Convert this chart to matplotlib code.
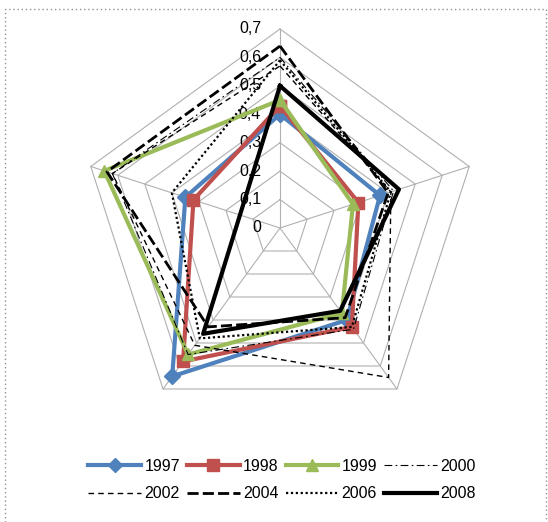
import numpy as np
import matplotlib.pyplot as plt
from matplotlib.patches import Rectangle

# values per axis, clockwise from the top spoke
series_names = ['1997', '1998', '1999', '2000', '2002', '2004', '2006', '2008']
v1997 = [0.40, 0.37, 0.40, 0.645, 0.35]
v1998 = [0.43, 0.29, 0.43, 0.58, 0.32]
v1999 = [0.45, 0.27, 0.37, 0.55, 0.65]
v2000 = [0.60, 0.42, 0.44, 0.55, 0.62]
v2002 = [0.57, 0.41, 0.65, 0.51, 0.62]
v2004 = [0.64, 0.40, 0.39, 0.43, 0.64]
v2006 = [0.59, 0.41, 0.43, 0.48, 0.40]
v2008 = [0.50, 0.44, 0.36, 0.46, np.nan]  # missing value, line skips it
ring_values = [0.1, 0.2, 0.3, 0.4, 0.5, 0.6, 0.7]
tick_labels = ['0', '0,1', '0,2', '0,3', '0,4', '0,5', '0,6', '0,7']

n_axes = 5
angles = np.pi / 2 - np.arange(n_axes) * 2 * np.pi / n_axes


def to_xy(vals):
    vals = np.asarray(vals, dtype=float)
    keep = ~np.isnan(vals)
    r = vals[keep]
    a = angles[keep]
    x = np.append(r * np.cos(a), r[0] * np.cos(a[0]))
    y = np.append(r * np.sin(a), r[0] * np.sin(a[0]))
    return x, y


W, H = 548, 522
cx, cy, rad_px = 280, 228, 199
s = 0.7 / rad_px

plt.rcParams['font.family'] = ['Liberation Sans', 'DejaVu Sans']
fig = plt.figure(figsize=(W / 100, H / 100), dpi=100)
ax = fig.add_axes([0, 0, 1, 1])
ax.set_xlim((0 - cx) * s, (W - cx) * s)
ax.set_ylim((cy - H) * s, cy * s)
ax.axis('off')

# dotted chart border
ax.add_patch(Rectangle(((5 - cx) * s, (cy - 540) * s), 541 * s, 531 * s,
                       fill=False, ec='#909090', lw=1, ls=(0, (1, 2))))

# grid rings and spokes
grid_col = '#B0B0B0'
for rv in ring_values:
    gx, gy = to_xy([rv] * n_axes)
    ax.plot(gx, gy, color=grid_col, lw=0.8, zorder=1)
for a in angles:
    ax.plot([0, 0.7 * np.cos(a)], [0, 0.7 * np.sin(a)], color=grid_col, lw=0.8, zorder=1)

for rv, lab in zip([0] + ring_values, tick_labels):
    ax.text(-19 * s, rv, lab, ha='right', va='center', fontsize=11.5, color='black')

styles = {
    '1997': dict(color='#4F81BD', lw=3, marker='D', ms=8),
    '1998': dict(color='#C0504D', lw=3, marker='s', ms=9),
    '1999': dict(color='#9BBB59', lw=3, marker='^', ms=9),
    '2000': dict(color='black', lw=0.8, ls=(0, (7, 3, 1.5, 3))),
    '2002': dict(color='black', lw=1.0, ls=(0, (4, 3))),
    '2004': dict(color='black', lw=2.0, ls=(0, (4, 1.5))),
    '2006': dict(color='black', lw=1.6, ls=(0, (1, 1.2))),
    '2008': dict(color='black', lw=3),
}
data = [v1997, v1998, v1999, v2000, v2002, v2004, v2006, v2008]

handles = {}
for name, vals in zip(series_names, data):
    x, y = to_xy(vals)
    st = styles[name]
    ln, = ax.plot(x, y, label=name, zorder=3, **st)
    handles[name] = ln

order = ['1997', '2002', '1998', '2004', '1999', '2006', '2000', '2008']
fig.legend([handles[k] for k in order], order, ncol=4, frameon=False,
           loc='center', bbox_to_anchor=(282 / W, 1 - 480 / H),
           fontsize=11.5, handlelength=3.3, handletextpad=0.2,
           columnspacing=0.45, labelspacing=0.8, markerscale=0.9)

fig.savefig('out.png', dpi=100)
